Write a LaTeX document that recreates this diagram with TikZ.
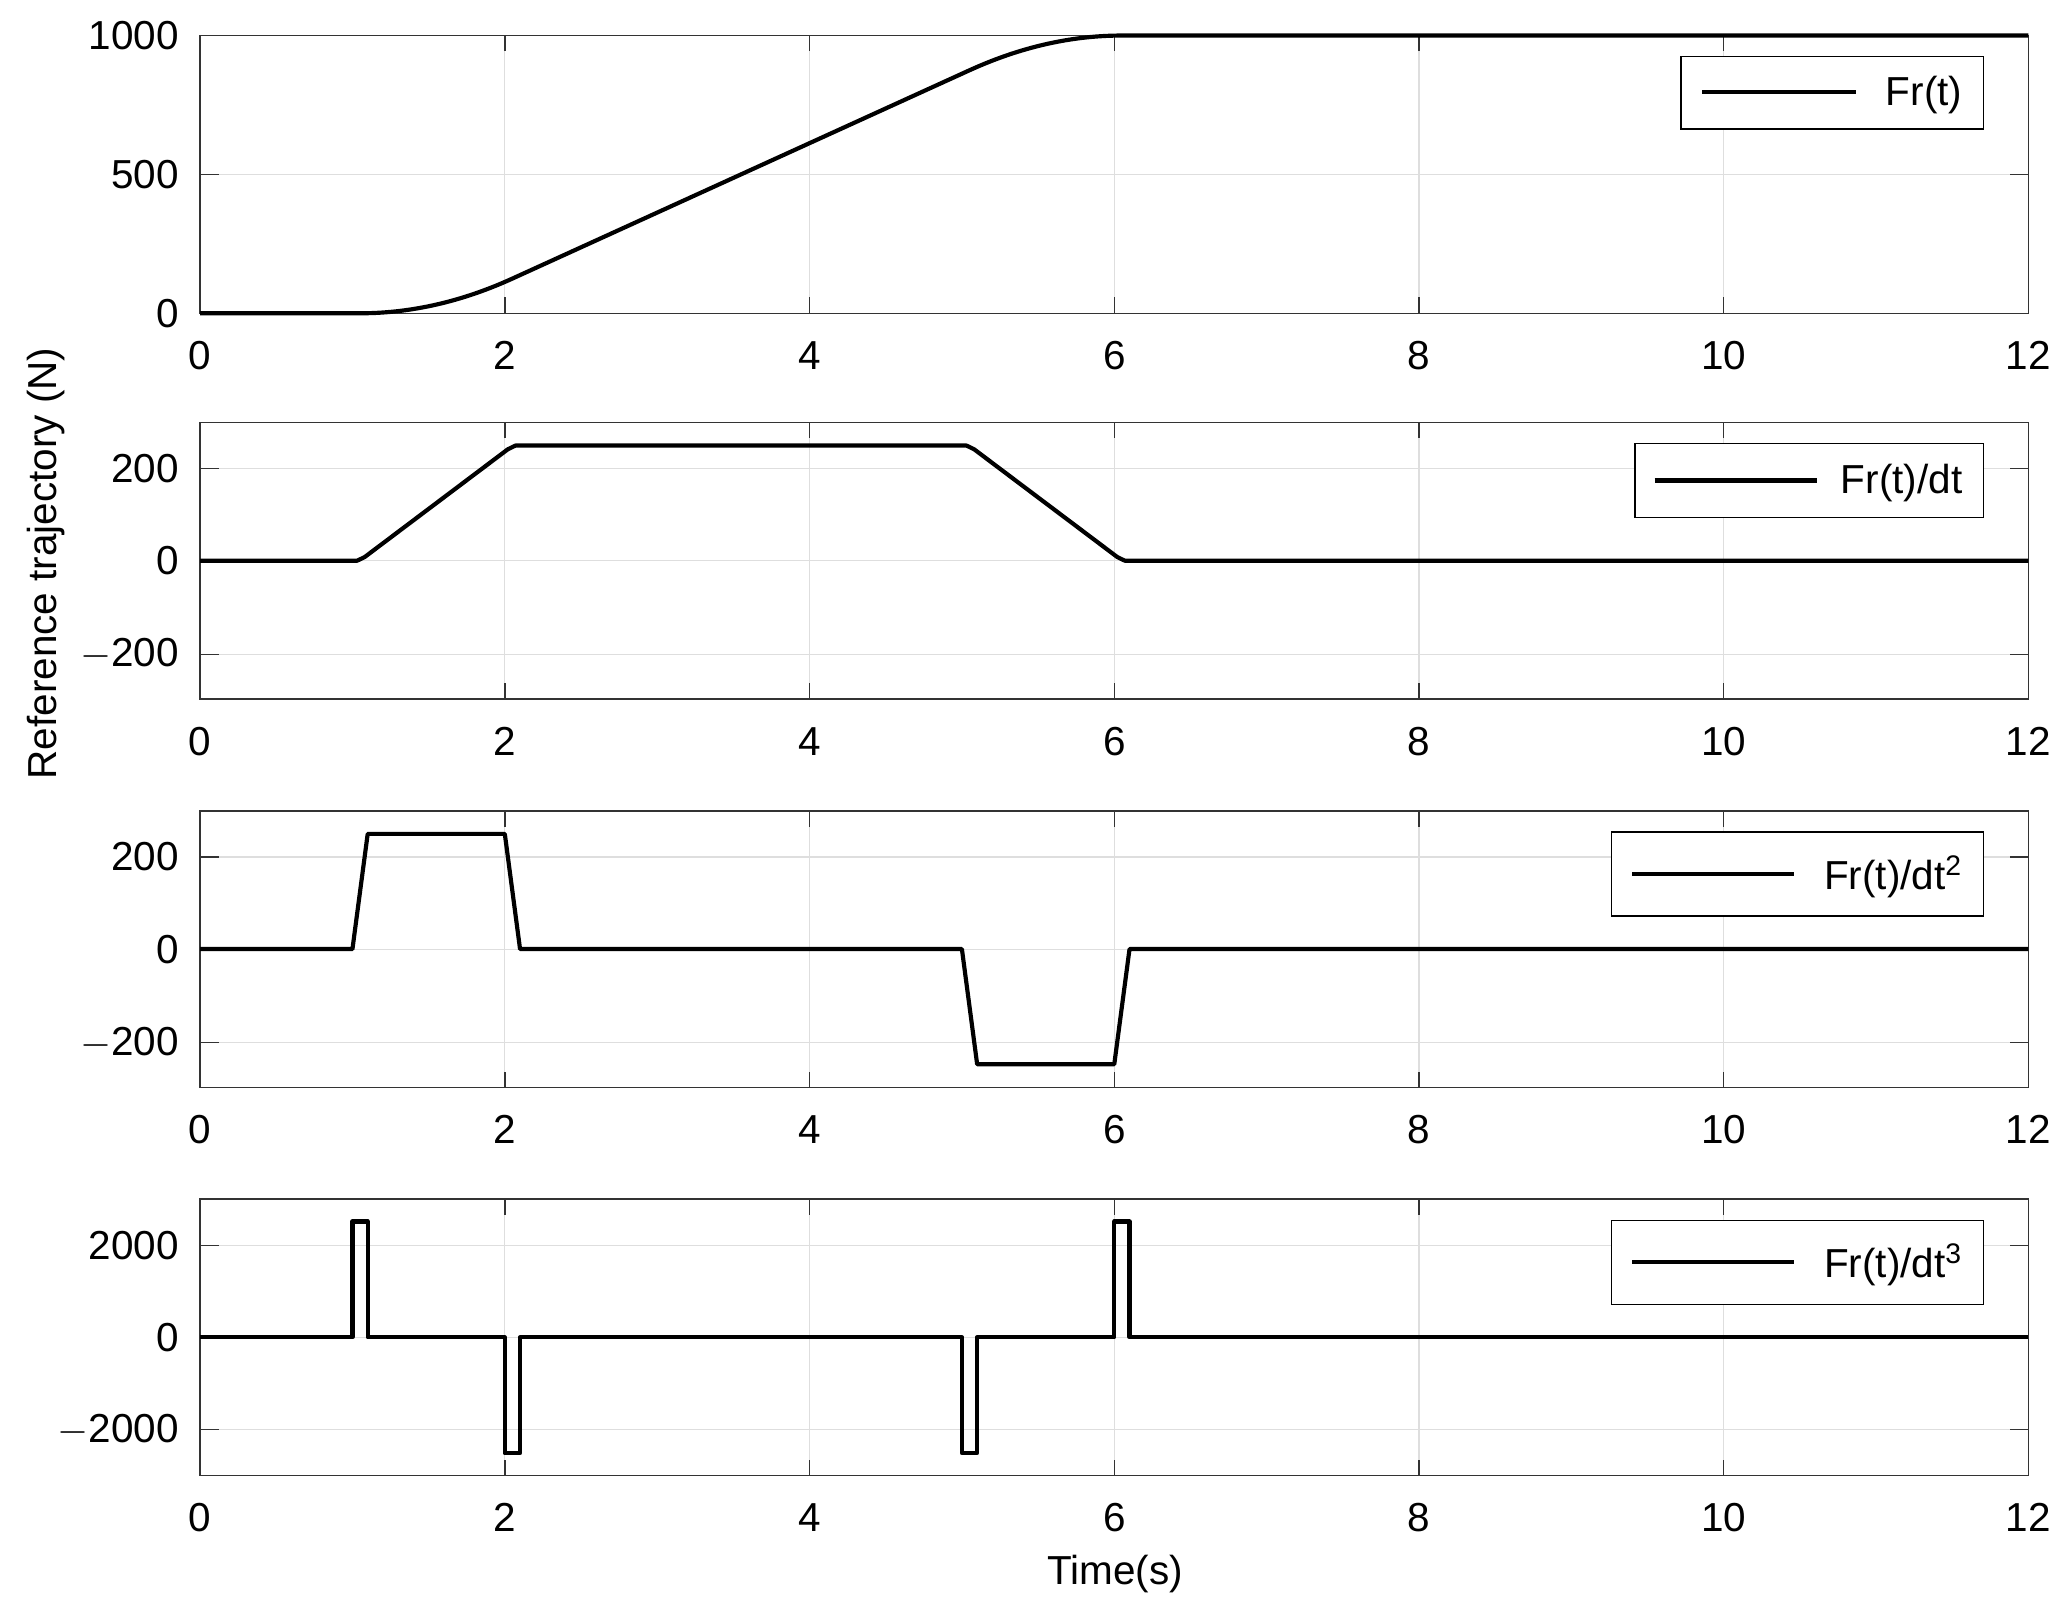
\documentclass[tikz,border=0pt]{standalone}
\usepackage{fontspec}
\setmainfont{Liberation Sans}
\begin{document}
\begin{tikzpicture}[x=0.02cm,y=-0.02cm,
  grid/.style={draw=black!13,line width=0.5pt},
  ax/.style={draw=black!80,line width=0.6pt},
  curve/.style={line width=1.8pt,line join=round},
  lab/.style={font=\fontsize{17.5}{19}\selectfont},
  leg/.style={draw=black,line width=0.6pt,fill=white}]
\useasboundingbox (0,0) rectangle (1568,1233);
\foreach \T/\B/\n in {27/238/1,321/531/2,616/826/3,911/1121/4}{
  \foreach \k in {0,2,...,12}{
    \draw[grid] ({152+115.75*\k},\T) -- ({152+115.75*\k},\B);
    \draw[ax] ({152+115.75*\k},\B) -- ({152+115.75*\k},\B-12);
    \draw[ax] ({152+115.75*\k},\T) -- ({152+115.75*\k},\T+12);
    \node[lab] at ({152+115.75*\k},\B+32) {\k};
  }
}
\foreach \y/\l in {27/1000,132.5/500,238/0}{
  \draw[grid] (152,\y) -- (1541,\y);
  \draw[ax] (152,\y) -- (166,\y); \draw[ax] (1541,\y) -- (1527,\y);
  \node[lab,anchor=east] at (142,\y) {\l};}
\foreach \off in {0,295}{
\foreach \y/\l in {356/200,426/0,497/$-$200}{
  \draw[grid] (152,\y+\off) -- (1541,\y+\off);
  \draw[ax] (152,\y+\off) -- (166,\y+\off); \draw[ax] (1541,\y+\off) -- (1527,\y+\off);
  \node[lab,anchor=east] at (142,\y+\off) {\l};}}
\foreach \y/\l in {946/2000,1016/0,1086/$-$2000}{
  \draw[grid] (152,\y) -- (1541,\y);
  \draw[ax] (152,\y) -- (166,\y); \draw[ax] (1541,\y) -- (1527,\y);
  \node[lab,anchor=east] at (142,\y) {\l};}
\foreach \T/\B/\n in {27/238/1,321/531/2,616/826/3,911/1121/4}
  \draw[ax] (152,\T) rectangle (1541,\B);
% curve 1
\draw[curve] (152,238) -- ({152+115.75*1.05},238)
  -- plot[domain=1.05:2.05,samples=30] ({152+115.75*\x},{238-0.211*125*(\x-1.05)^2})
  -- ({152+115.75*5.05},{238-0.211*875})
  -- plot[domain=5.05:6.05,samples=30] ({152+115.75*\x},{238-0.211*(1000-125*(6.05-\x)^2)})
  -- (1541,{238-0.211*1000});
% curve 2
\draw[curve] (152,426) -- ({152+115.75*1.03},426) -- ({152+115.75*1.08},{426-0.35*8})
 -- ({152+115.75*2.02},{426-0.35*242}) -- ({152+115.75*2.07},{426-0.35*250})
 -- ({152+115.75*5.03},{426-0.35*250}) -- ({152+115.75*5.08},{426-0.35*242})
 -- ({152+115.75*6.02},{426-0.35*8}) -- ({152+115.75*6.07},426) -- (1541,426);
% curve 3
\draw[curve] (152,721) -- ({152+115.75*1},721) -- ({152+115.75*1.1},633.5) -- ({152+115.75*2},633.5)
 -- ({152+115.75*2.1},721) -- ({152+115.75*5},721) -- ({152+115.75*5.1},808.5) -- ({152+115.75*6},808.5)
 -- ({152+115.75*6.1},721) -- (1541,721);
% curve 4
\draw[curve] (152,1016)
 -- ({152+115.75*1},1016) -- ({152+115.75*1},928) -- ({152+115.75*1.1},928) -- ({152+115.75*1.1},1016)
 -- ({152+115.75*2},1016) -- ({152+115.75*2},1104) -- ({152+115.75*2.1},1104) -- ({152+115.75*2.1},1016)
 -- ({152+115.75*5},1016) -- ({152+115.75*5},1104) -- ({152+115.75*5.1},1104) -- ({152+115.75*5.1},1016)
 -- ({152+115.75*6},1016) -- ({152+115.75*6},928) -- ({152+115.75*6.1},928) -- ({152+115.75*6.1},1016)
 -- (1541,1016);
% legends
\draw[leg] (1277,43) rectangle (1507,98); \draw[curve] (1293,70) -- (1410,70);
\node[lab,anchor=east] at (1497,72) {Fr(t)};
\draw[leg] (1242,337) rectangle (1507,393); \draw[curve] (1257,365) -- (1380,365);
\node[lab,anchor=east] at (1497,367) {Fr(t)/dt};
\draw[leg] (1224,632) rectangle (1507,696); \draw[curve] (1240,664) -- (1363,664);
\node[lab,anchor=east] at (1497,666) {Fr(t)/dt\textsuperscript{2}};
\draw[leg] (1224,927) rectangle (1507,991); \draw[curve] (1240,959) -- (1363,959);
\node[lab,anchor=east] at (1497,961) {Fr(t)/dt\textsuperscript{3}};
\node[lab,rotate=90] (yl) at (35,428) {Reference trajectory (N)};
\node[lab] (xl) at (847,1196) {Time(s)};
\end{tikzpicture}
\end{document}
